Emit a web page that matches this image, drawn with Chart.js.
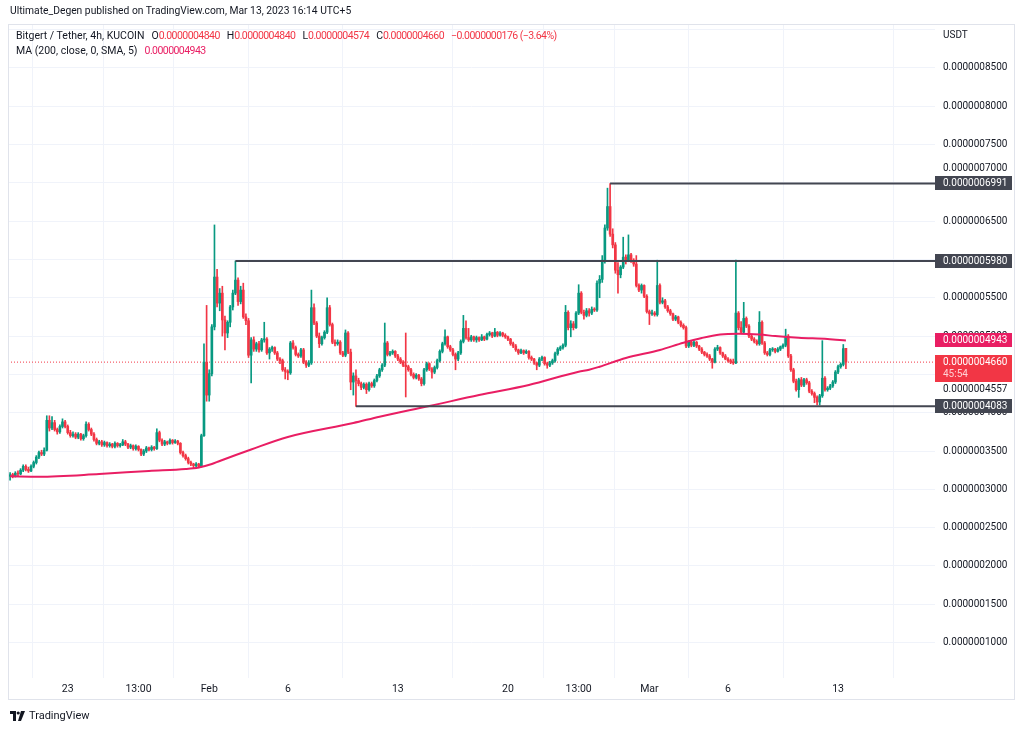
<!DOCTYPE html>
<html><head><meta charset="utf-8">
<script src="https://cdn.jsdelivr.net/npm/chart.js@4"></script>
<style>
html,body{margin:0;padding:0;background:#fff;}
#wrap{position:relative;width:1024px;height:730px;overflow:hidden;font-family:Roboto,"Liberation Sans",sans-serif;color:#131722;}
#c{position:absolute;left:0;top:0;}
.t{position:absolute;white-space:nowrap;line-height:1;}
.r{color:#F23645;}
.p{color:#E91E63;}
.n{letter-spacing:-0.55px;}
.g{margin-left:7px;}
</style></head>
<body><div id="wrap">
<canvas id="c" width="1024" height="730"></canvas>
<div class="t" style="left:10px;top:6px;font-size:10.3px;">Ultimate_Degen published on TradingView.com, Mar 13, 2023 16:14 UTC+5</div>
<div class="t" id="leg1" style="left:16px;top:31px;font-size:10.5px;"></div>
<div class="t" id="leg2" style="left:16px;top:46px;font-size:10.5px;"></div>
<div class="t" style="left:10px;top:710px;font-size:11px;display:flex;align-items:center;">
<svg width="16" height="10" viewBox="0 0 16 10" style="margin-right:3px"><path d="M0 0h6v10H3V3H0z" fill="#131722"/><circle cx="8.2" cy="2" r="1.6" fill="#131722"/><path d="M11 0h4l-4 10H8z" fill="#131722"/></svg>TradingView</div>
</div>
<script>
// prices in units of 1e-10 USDT; one candle = 4h, index 0 = Jan 19 09:00 (UTC+5)
const OPEN = [
3170,3190,3180,3210,3200,3250,3300,3260,3240,3300,
3350,3420,3480,3460,3510,3900,3800,3870,3780,3750,
3820,3880,3820,3740,3700,3720,3680,3720,3660,3700,
3850,3780,3720,3650,3600,3620,3580,3610,3570,3590,
3560,3600,3570,3580,3620,3590,3550,3570,3530,3560,
3520,3460,3500,3540,3520,3550,3530,3740,3640,3590,
3620,3600,3640,3610,3630,3600,3480,3440,3400,3350,
3330,3310,3330,3300,3700,4660,4230,4510,5120,5770,
5430,5560,5210,5040,5180,5380,5560,5730,5450,5600,
5250,5200,4750,4950,4830,4900,4820,4950,4960,4780,
4830,4850,4780,4700,4680,4560,4540,4520,4910,4850,
4760,4740,4820,4660,4620,4650,5370,5170,5000,4900,
4980,5050,5370,5150,4920,4900,4920,4780,4750,5040,
4790,4400,4480,4420,4380,4330,4370,4300,4380,4350,
4420,4480,4560,4620,4910,4760,4780,4800,4740,4700,
4660,4620,4600,4560,4500,4460,4490,4440,4380,4560,
4640,4570,4530,4590,4680,4800,4900,4990,4860,4820,
4760,4700,4780,4930,5100,4980,4950,4990,4950,4980,
4950,4990,4960,5020,5040,5000,5050,5010,5040,5010,
4990,4960,4900,4870,4820,4780,4810,4780,4800,4720,
4700,4650,4620,4700,4720,4640,4620,4650,4680,4770,
4830,4850,4880,5310,5110,5160,5110,5300,5560,5310,
5270,5330,5300,5350,5340,5690,5740,5990,6410,6690,
6330,6190,5860,5800,5900,6030,5990,6060,5990,5940,
5660,5600,5660,5520,5320,5290,5300,5280,5660,5440,
5460,5380,5330,5290,5220,5250,5180,5140,5110,4870,
4920,4880,4920,4870,4830,4790,4760,4740,4700,4660,
4830,4850,4780,4740,4700,4680,4660,4650,5300,5110,
5050,5230,5130,5000,4960,4930,4900,5180,4910,4780,
4760,4820,4830,4800,4830,4860,4880,5000,4740,4560,
4410,4300,4430,4360,4430,4390,4280,4250,4200,4140,
4220,4450,4300,4320,4350,4400,4530,4600,4630,4840];
const HIGH = [
3220,3210,3230,3240,3270,3320,3320,3290,3320,3370,
3440,3500,3510,3540,3960,3960,3950,3900,3800,3840,
3920,3900,3840,3770,3750,3740,3740,3730,3720,3880,
3870,3800,3740,3670,3640,3640,3630,3620,3610,3600,
3620,3610,3600,3650,3640,3600,3590,3580,3580,3570,
3530,3520,3560,3550,3570,3560,3790,3760,3660,3640,
3630,3660,3650,3650,3640,3610,3500,3460,3420,3370,
3340,3350,3340,3720,4900,5400,4560,5150,6450,5870,
5620,5650,5260,5200,5400,5600,5980,5760,5650,5690,
5290,5230,4980,4990,4920,4930,4970,5180,4980,4850,
4870,4860,4800,4720,4700,4590,4560,4930,4940,4870,
4780,4840,4840,4680,4680,5600,5420,5190,5040,5000,
5070,5500,5400,5170,4950,4950,4940,4800,5080,5060,
4830,4520,4560,4450,4400,4390,4390,4400,4400,4440,
4500,4580,4640,5170,4930,4800,4820,4810,4760,4720,
4680,5040,4620,4580,4520,4510,4500,4460,4580,4660,
4650,4590,4610,4700,4820,4920,5080,5000,4880,4840,
4780,4800,4950,5270,5200,5100,5010,5000,5000,4990,
5020,5000,5040,5060,5050,5100,5060,5060,5050,5030,
5000,4970,4920,4890,4830,4830,4820,4820,4810,4740,
4710,4660,4720,4740,4730,4660,4670,4700,4790,4850,
4870,4900,5400,5330,5200,5190,5320,5670,5580,5340,
5360,5360,5380,5370,5720,5790,6050,6450,6930,6991,
6400,6220,5960,5920,6290,6060,6320,6080,6010,6050,
5680,5680,5670,5540,5340,5340,5320,5990,5680,5500,
5480,5400,5350,5300,5270,5260,5200,5160,5130,4940,
4940,4940,4930,4880,4850,4800,4780,4760,4710,4850,
4880,4860,4790,4760,4720,4700,4700,5990,5320,5190,
5440,5250,5150,5020,4980,4950,5320,5200,4930,4800,
4840,4850,4840,4850,4870,4900,5090,5020,4760,4580,
4440,4450,4460,4450,4450,4410,4300,4270,4220,4240,
4940,4470,4340,4370,4420,4550,4620,4650,4890,4840];
const LOW = [
3120,3150,3160,3170,3190,3230,3240,3220,3230,3280,
3330,3400,3440,3440,3500,3760,3780,3760,3720,3730,
3800,3800,3720,3680,3680,3660,3660,3640,3640,3680,
3760,3700,3630,3580,3580,3560,3560,3550,3550,3540,
3540,3550,3550,3570,3570,3530,3530,3510,3510,3500,
3440,3440,3480,3500,3500,3510,3520,3620,3570,3570,
3580,3590,3590,3600,3580,3460,3420,3380,3330,3310,
3280,3290,3280,3290,3690,4150,4150,4480,5080,5380,
5330,5000,4820,4980,5120,5340,5540,5400,5420,5230,
5150,4720,4390,4800,4800,4790,4800,4920,4760,4700,
4800,4760,4680,4640,4540,4440,4430,4500,4830,4740,
4720,4720,4640,4590,4600,4630,5150,4980,4850,4880,
4960,5030,5130,4900,4870,4880,4760,4730,4730,4770,
4300,4230,4083,4350,4300,4310,4250,4280,4330,4330,
4400,4460,4540,4600,4740,4740,4760,4720,4680,4640,
4600,4205,4540,4480,4440,4440,4420,4350,4360,4540,
4550,4450,4510,4570,4660,4780,4880,4840,4800,4740,
4560,4680,4760,4910,4960,4930,4930,4930,4920,4930,
4940,4940,4950,5000,4980,4990,4990,5000,4990,4970,
4940,4880,4850,4800,4760,4770,4760,4770,4700,4680,
4630,4560,4600,4680,4620,4580,4600,4630,4660,4750,
4810,4830,4860,5080,4990,5080,5100,5280,5290,5220,
5250,5260,5280,5320,5320,5500,5700,5950,6380,6300,
6150,5820,5560,5760,5880,5940,5970,5960,5910,5640,
5580,5560,5500,5300,5150,5270,5260,5260,5420,5420,
5360,5310,5270,5200,5200,5160,5120,5090,4850,4850,
4860,4860,4850,4810,4770,4740,4720,4680,4580,4650,
4810,4760,4720,4690,4660,4640,4630,4640,5080,5030,
5030,5110,4980,4940,4910,4880,4880,4890,4760,4740,
4740,4800,4780,4790,4810,4840,4860,4720,4540,4390,
4280,4200,4340,4340,4370,4260,4230,4130,4100,4100,
4200,4280,4280,4300,4330,4380,4510,4580,4610,4574];
const CLOSE = [
3190,3180,3210,3200,3250,3300,3260,3240,3300,3350,
3420,3480,3460,3510,3900,3800,3870,3780,3750,3820,
3880,3820,3740,3700,3720,3680,3720,3660,3700,3850,
3780,3720,3650,3600,3620,3580,3610,3570,3590,3560,
3600,3570,3580,3620,3590,3550,3570,3530,3560,3520,
3460,3500,3540,3520,3550,3530,3740,3640,3590,3620,
3600,3640,3610,3630,3600,3480,3440,3400,3350,3330,
3310,3330,3300,3700,4660,4230,4510,5120,5770,5430,
5560,5210,5040,5180,5380,5560,5730,5450,5600,5250,
5200,4750,4950,4830,4900,4820,4950,4960,4780,4830,
4850,4780,4700,4680,4560,4540,4520,4910,4850,4760,
4740,4820,4660,4620,4650,5370,5170,5000,4900,4980,
5050,5370,5150,4920,4900,4920,4780,4750,5040,4790,
4400,4480,4420,4380,4330,4370,4300,4380,4350,4420,
4480,4560,4620,4910,4760,4780,4800,4740,4700,4660,
4620,4600,4560,4500,4460,4490,4440,4380,4560,4640,
4570,4530,4590,4680,4800,4900,4990,4860,4820,4760,
4700,4780,4930,5100,4980,4950,4990,4950,4980,4950,
4990,4960,5020,5040,5000,5050,5010,5040,5010,4990,
4960,4900,4870,4820,4780,4810,4780,4800,4720,4700,
4650,4620,4700,4720,4640,4620,4650,4680,4770,4830,
4850,4880,5310,5110,5160,5110,5300,5560,5310,5270,
5330,5300,5350,5340,5690,5740,5990,6410,6690,6330,
6190,5860,5800,5900,6030,5990,6060,5990,5940,5660,
5600,5660,5520,5320,5290,5300,5280,5660,5440,5460,
5380,5330,5290,5220,5250,5180,5140,5110,4870,4920,
4880,4920,4870,4830,4790,4760,4740,4700,4660,4830,
4850,4780,4740,4700,4680,4660,4650,5300,5110,5050,
5230,5130,5000,4960,4930,4900,5180,4910,4780,4760,
4820,4830,4800,4830,4860,4880,5000,4740,4560,4410,
4300,4430,4360,4430,4390,4280,4250,4200,4140,4220,
4450,4300,4320,4350,4400,4530,4600,4630,4836,4660];

// MA(200) at these candle indices
const MA_IDX = [0,11,34,53,67,72,77,80,92,106,131,141,160,179,198,217,221,225,235,248,257,264,271,278,286,292,301,312,319];
const MA_VAL = [3170,3165,3200,3240,3265,3285,3330,3370,3520,3683,3865,3948,4087,4231,4361,4535,4560,4600,4714,4818,4913,4975,5020,5030,5020,5000,4978,4962,4943];

// horizontal rays drawn on the chart
const LEVELS = [6991, 5980, 4083];
const LEVEL_START = [229, 86, 132];

// time axis
const X_TICKS = [22, 49, 76, 106, 148, 190, 217, 244, 274, 316];
const X_LABELS = ['23', '13:00', 'Feb', '6', '13', '20', '13:00', 'Mar', '6', '13'];
// price axis
const Y_TICKS = [1000,1500,2000,2500,3000,3500,4000,4500,5000,5500,6000,6500,7000,7500,8000,8500,9000];
const Y_MIN = 538, Y_MAX = 9059, X_MIN = -0.8, X_MAX = 353;
const TIMER = '45:54';

const GREEN = '#089981', RED = '#F23645', PINK = '#E91E63', DARK = '#434651';
const fmt = v => (v * 1e-10).toFixed(10);
const N = CLOSE.length, last = N - 1;
const chg = CLOSE[last] - CLOSE[last - 1];
const pct = chg / CLOSE[last - 1] * 100;
const minus = s => s.replace('-', '\u2212');
const val = s => '<span class="r n">' + s + '</span>';
document.getElementById('leg1').innerHTML =
  'Bitgert / Tether, 4h, KUCOIN<span class="g">O</span>' + val(fmt(OPEN[last])) +
  '<span class="g">H</span>' + val(fmt(HIGH[last])) +
  '<span class="g">L</span>' + val(fmt(LOW[last])) +
  '<span class="g">C</span>' + val(fmt(CLOSE[last])) +
  '<span class="g r n">' + minus(fmt(chg)) + ' (' + minus(pct.toFixed(2)) + '%)</span>';
document.getElementById('leg2').innerHTML =
  'MA (200, close, 0, SMA, 5)<span class="g p n">' + fmt(MA_VAL[MA_VAL.length - 1]) + '</span>';

const idx = CLOSE.map((_, i) => i);
const col = idx.map(i => CLOSE[i] >= OPEN[i] ? GREEN : RED);

const overlay = {
  id: 'overlay',
  afterDraw(chart) {
    const ctx = chart.ctx, y = chart.scales.y, ca = chart.chartArea;
    ctx.save();
    ctx.strokeStyle = '#e0e3eb'; ctx.lineWidth = 1;
    ctx.strokeRect(8.5, 24.5, 1006, 675);
    ctx.font = '10px Roboto'; ctx.textBaseline = 'middle'; ctx.textAlign = 'left';
    ctx.fillStyle = '#131722';
    ctx.fillText('USDT', ca.right + 8, 35);
    ctx.fillText(fmt(7000), ca.right + 8, Math.round(y.getPixelForValue(7000)) - 15);
    const badge = (v, bg) => {
      const py = Math.round(y.getPixelForValue(v));
      ctx.fillStyle = bg; ctx.fillRect(ca.right, py - 7, 77, 14);
      ctx.fillStyle = '#fff'; ctx.fillText(fmt(v), ca.right + 8, py);
    };
    LEVELS.forEach(v => badge(v, DARK));
    badge(MA_VAL[MA_VAL.length - 1], PINK);
    const py = Math.round(y.getPixelForValue(CLOSE[last]));
    ctx.fillStyle = RED; ctx.fillRect(ca.right, py - 7, 77, 27);
    ctx.fillStyle = '#fff';
    ctx.fillText(fmt(CLOSE[last]), ca.right + 8, py);
    ctx.fillStyle = '#ffd0d4';
    ctx.fillText(TIMER, ca.right + 8, py + 12);
    ctx.fillStyle = '#131722';
    ctx.fillText(fmt(4557), ca.right + 8, py + 27);
    ctx.restore();
  }
};

const datasets = [
  { type: 'line', data: [{x: X_MIN, y: CLOSE[last]}, {x: X_MAX, y: CLOSE[last]}],
    borderColor: RED, borderWidth: 1, borderDash: [1, 2], pointRadius: 0, order: 10 },
  { type: 'bar', data: idx.map(i => ({x: i, y: [LOW[i], HIGH[i]]})),
    backgroundColor: col, barThickness: 1, grouped: false, borderWidth: 0, order: 6 },
  { type: 'bar', data: idx.map(i => ({x: i, y: [OPEN[i], CLOSE[i]]})),
    backgroundColor: col, barThickness: 2, minBarLength: 1, grouped: false, borderWidth: 0, order: 5 },
  { type: 'line', data: MA_IDX.map((x, k) => ({x, y: MA_VAL[k]})),
    borderColor: PINK, borderWidth: 2, pointRadius: 0, cubicInterpolationMode: 'monotone', order: 3 }
];
LEVELS.forEach((v, k) => datasets.push({
  type: 'line', data: [{x: LEVEL_START[k], y: v}, {x: X_MAX, y: v}],
  borderColor: DARK, borderWidth: 2, pointRadius: 0, order: 1
}));

new Chart(document.getElementById('c'), {
  type: 'bar',
  data: { datasets },
  options: {
    responsive: false, animation: false, devicePixelRatio: 1,
    layout: { padding: { left: 8, top: 25, right: 9, bottom: 30 } },
    plugins: { legend: { display: false }, tooltip: { enabled: false } },
    scales: {
      x: {
        type: 'linear', min: X_MIN, max: X_MAX, offset: false,
        afterBuildTicks: s => { s.ticks = X_TICKS.map(v => ({value: v})); },
        afterFit: s => { s.height = 22; },
        grid: { color: '#f0f3fa', drawTicks: false },
        border: { display: false },
        ticks: { padding: 5, color: '#131722', font: { family: 'Roboto', size: 10.5 }, maxRotation: 0,
          autoSkip: false, callback: v => X_LABELS[X_TICKS.indexOf(v)] }
      },
      y: {
        position: 'right', min: Y_MIN, max: Y_MAX,
        afterBuildTicks: s => { s.ticks = Y_TICKS.map(v => ({value: v})); },
        afterFit: s => { s.width = 80; },
        grid: { color: '#f0f3fa', drawTicks: false },
        border: { display: false },
        ticks: { padding: 8, color: '#131722', font: { family: 'Roboto', size: 10 },
          callback: v => (v === 9000 || v === 7000) ? '' : fmt(v) }
      }
    }
  },
  plugins: [overlay]
});
</script>
</body></html>
